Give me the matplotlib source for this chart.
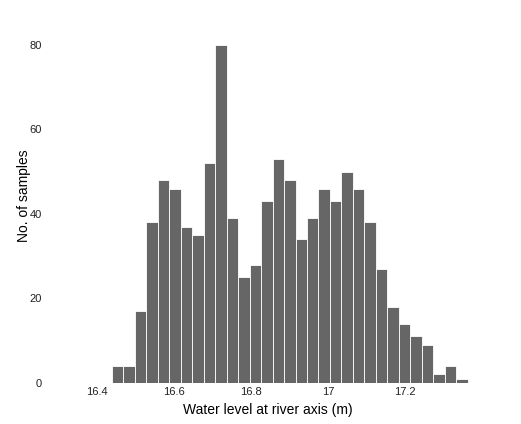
import matplotlib
matplotlib.use("Agg")
import matplotlib.pyplot as plt
import numpy as np

# histogram counts (31 bins)
bin_start = 16.439
bin_width = 0.0298
counts = [4, 4, 17, 38, 48, 46, 37, 35, 52, 80, 39, 25, 28, 43, 53, 48,
          34, 39, 46, 43, 50, 46, 38, 27, 18, 14, 11, 9, 2, 4, 1]

x_ticks = [16.4, 16.6, 16.8, 17.0, 17.2]
x_tick_labels = ["16.4", "16.6", "16.8", "17", "17.2"]
y_ticks = [0, 20, 40, 60, 80]

plt.rcParams["font.family"] = ["Liberation Sans", "DejaVu Sans"]

fig = plt.figure(figsize=(5.21, 4.24), dpi=100)
ax = fig.add_axes([0.115, 0.097, 0.816, 0.847])

edges = bin_start + bin_width * np.arange(len(counts))
ax.bar(edges, counts, width=bin_width, align="edge",
       color="#666666", edgecolor="white", linewidth=0.6)

ax.set_xlim(16.304, 17.408)
ax.set_ylim(0, 85)
ax.set_xticks(x_ticks)
ax.set_xticklabels(x_tick_labels)
ax.set_yticks(y_ticks)
ax.tick_params(axis="both", length=0, labelsize=8, colors="#222222")
ax.tick_params(axis="y", pad=13)
ax.tick_params(axis="x", pad=3)
for s in ax.spines.values():
    s.set_visible(False)

ax.set_xlabel("Water level at river axis (m)", fontsize=10)
ax.set_ylabel("No. of samples", fontsize=10)
ax.xaxis.set_label_coords(0.49, -0.055)
ax.yaxis.set_label_coords(-0.068, 0.52)

fig.savefig("out.png", dpi=100, facecolor="white")
